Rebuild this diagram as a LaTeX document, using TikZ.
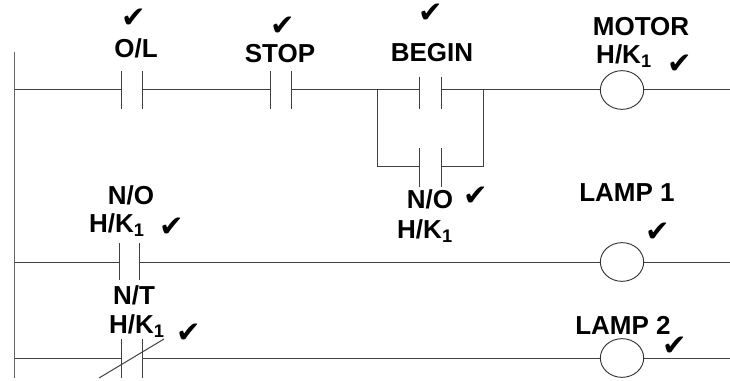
\documentclass[tikz,border=0pt]{standalone}
\usepackage{fontspec}
\setmainfont{Liberation Sans}
\newfontfamily\chk{DejaVu Sans}
\tikzset{
 wire/.style={line width=0.75pt,draw=black!75},
 rail/.style={line width=1.1pt,draw=black!60},
 coil/.style={ellipse,draw=black!80,line width=0.7pt,minimum width=32.5pt,minimum height=29pt,inner sep=0pt,fill=white},
 lbl/.style={font=\fontsize{19.5}{22}\selectfont\bfseries,inner sep=0pt,text=black},
 tick/.style={font=\chk\fontsize{22}{22}\selectfont,inner sep=0pt,text=black}
}
\usetikzlibrary{shapes.geometric}
\begin{document}
\begin{tikzpicture}[x=0.75pt,y=-0.75pt]
\useasboundingbox (0,0) rectangle (730,381);
% rail
\coordinate (railT) at (14.5,52);
\coordinate (railB) at (14.5,378);
\draw[rail] (railT) -- (railB);
% rung ends
\coordinate (r1L) at (14.5,90);
\coordinate (r1R) at (730,90);
\coordinate (r2L) at (14.5,262);
\coordinate (r2R) at (730,262);
\coordinate (r3L) at (14.5,358);
\coordinate (r3R) at (730,358);
% contact plates
\coordinate (olA) at (121,90); \coordinate (olB) at (142,90);
\coordinate (stA) at (270,90); \coordinate (stB) at (291,90);
\coordinate (bgA) at (419,90); \coordinate (bgB) at (441,90);
\coordinate (brL) at (377,90); \coordinate (brR) at (483,90);
\coordinate (brLb) at (377,166); \coordinate (brRb) at (483,166);
\coordinate (noA) at (419,166); \coordinate (noB) at (441,166);
\coordinate (n2A) at (119.5,262); \coordinate (n2B) at (139.5,262);
\coordinate (n3A) at (121,358); \coordinate (n3B) at (142,358);
\coordinate (slA) at (99,378); \coordinate (slB) at (164,339);
% coils
\node[coil] (motor) at (622,90) {};
\node[coil] (lamp1) at (622,262) {};
\node[coil] (lamp2) at (622,358) {};
% wires
\draw[wire] (r1L) -- (olA);
\draw[wire] (olB) -- (stA);
\draw[wire] (stB) -- (bgA);
\draw[wire] (bgB) -- (motor);
\draw[wire] (motor) -- (r1R);
\draw[wire] (brL) -- (brLb) -- (noA);
\draw[wire] (brR) -- (brRb) -- (noB);
\draw[wire] (r2L) -- (n2A);
\draw[wire] (n2B) -- (lamp1);
\draw[wire] (lamp1) -- (r2R);
\draw[wire] (r3L) -- (n3A);
\draw[wire] (n3B) -- (lamp2);
\draw[wire] (lamp2) -- (r3R);
% plates
\draw[wire] (121,71) -- (121,109);
\draw[wire] (142,71) -- (142,109);
\draw[wire] (270,71) -- (270,109);
\draw[wire] (291,71) -- (291,109);
\draw[wire] (419,77) -- (419,109);
\draw[wire] (441,77) -- (441,109);
\draw[wire] (419,148) -- (419,187);
\draw[wire] (441,148) -- (441,187);
\draw[wire] (119.5,243) -- (119.5,280);
\draw[wire] (139.5,243) -- (139.5,280);
\draw[wire] (121,339) -- (121,378);
\draw[wire] (142,339) -- (142,378);
\draw[wire] (slA) -- (slB);
% labels
\node[lbl] (t1) at (136,48) {O/L};
\node[lbl] (t2) at (280,54) {STOP};
\node[lbl] (t3) at (432,53) {BEGIN};
\node[lbl] (t4) at (641,27) {MOTOR};
\node[lbl] (t5) at (624,56) {H/K$_{\mathbf{1}}$};
\node[lbl] (t6) at (131,195) {N/O};
\node[lbl] (t7) at (117,225) {H/K$_{\mathbf{1}}$};
\node[lbl] (t8) at (134,295) {N/T};
\node[lbl] (t9) at (137,326) {H/K$_{\mathbf{1}}$};
\node[lbl] (t10) at (430,199) {N/O};
\node[lbl] (t11) at (425,231) {H/K$_{\mathbf{1}}$};
\node[lbl] (t12) at (627,193) {LAMP 1};
\node[lbl] (t13) at (623,325) {LAMP 2};
% ticks
\node[tick] (c1) at (134,18) {✔};
\node[tick] (c2) at (283,26) {✔};
\node[tick] (c3) at (431,13) {✔};
\node[tick] (c4) at (680,64) {✔};
\node[tick] (c5) at (172,227) {✔};
\node[tick] (c6) at (189,333) {✔};
\node[tick] (c7) at (476,196) {✔};
\node[tick] (c8) at (658,232) {✔};
\node[tick] (c9) at (675,346) {✔};
\end{tikzpicture}
\end{document}
